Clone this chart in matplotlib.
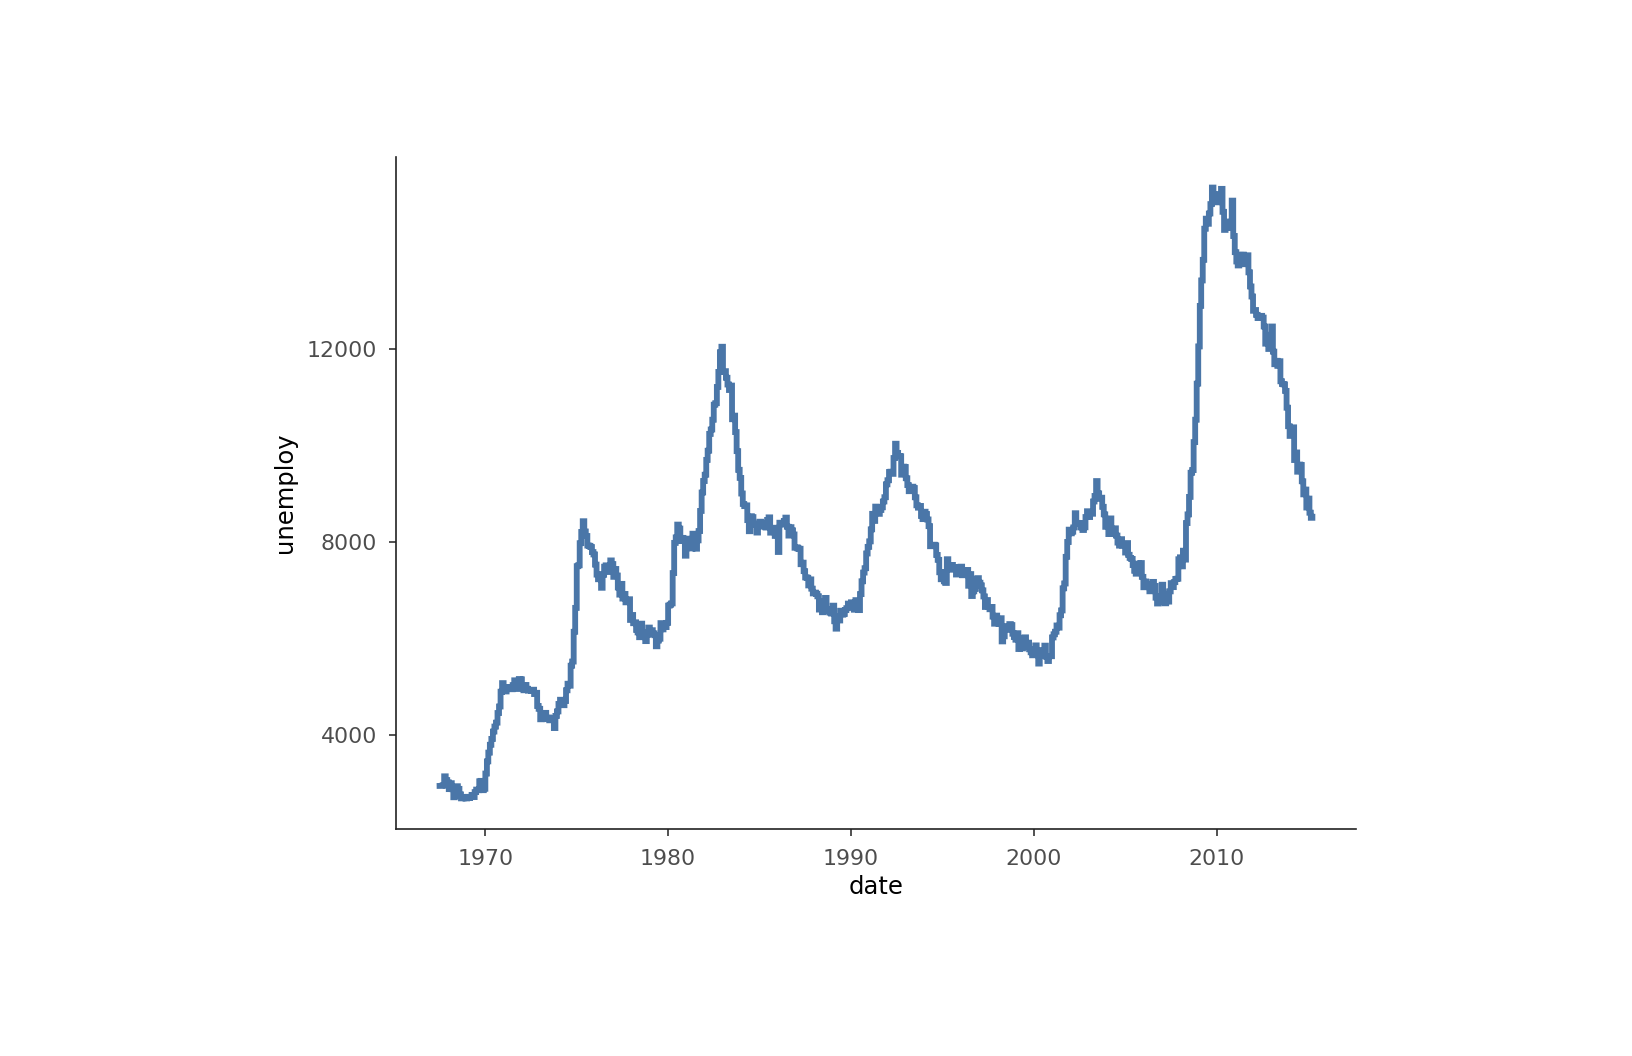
import matplotlib
matplotlib.use("Agg")
import matplotlib.pyplot as plt
import matplotlib.dates as mdates
import pandas as pd
import datetime as dt

start_month = "1967-07-01"
unemploy = [
    2944, 2945, 2958, 3143, 3066, 3018,
    2878, 3001, 2877, 2709, 2740, 2938, 2883, 2768, 2686, 2689, 2715, 2685,
    2718, 2692, 2712, 2758, 2713, 2816, 2868, 2856, 3040, 3049, 2856, 2884,
    3201, 3453, 3635, 3797, 3919, 4071, 4175, 4256, 4456, 4591, 4898, 5076,
    4986, 4903, 4987, 4959, 4996, 4949, 5035, 5134, 5042, 4954, 5161, 5154,
    5019, 4928, 5038, 4959, 4922, 4923, 4913, 4939, 4849, 4875, 4602, 4543,
    4326, 4452, 4394, 4459, 4329, 4363, 4305, 4305, 4350, 4144, 4396, 4489,
    4644, 4731, 4634, 4618, 4705, 4927, 5063, 5022, 5437, 5523, 6140, 6636,
    7501, 7520, 7978, 8210, 8433, 8220, 8127, 7928, 7923, 7897, 7794, 7744,
    7534, 7326, 7230, 7330, 7053, 7322, 7490, 7518, 7380, 7430, 7620, 7545,
    7280, 7443, 7307, 7059, 6911, 7134, 6829, 6925, 6751, 6763, 6815, 6386,
    6489, 6318, 6337, 6180, 6127, 6028, 6309, 6080, 6125, 5947, 6077, 6228,
    6109, 6173, 6109, 6069, 5840, 5959, 5996, 6320, 6190, 6296, 6238, 6325,
    6683, 6702, 6729, 7358, 7984, 8098, 8363, 8281, 8021, 8088, 8023, 7718,
    8071, 8051, 7982, 7869, 8174, 8098, 7863, 8036, 8230, 8646, 9029, 9267,
    9397, 9705, 9895, 10244, 10335, 10538, 10849, 10881, 11217, 11529, 11938, 12051,
    11534, 11545, 11408, 11268, 11154, 11246, 10548, 10623, 10282, 9887, 9499, 9331,
    9008, 8791, 8746, 8762, 8456, 8226, 8537, 8519, 8367, 8381, 8198, 8358,
    8423, 8321, 8339, 8395, 8302, 8460, 8513, 8196, 8248, 8298, 8128, 8138,
    7795, 8402, 8383, 8364, 8439, 8508, 8319, 8135, 8310, 8243, 8159, 7883,
    7892, 7865, 7862, 7542, 7574, 7398, 7268, 7261, 7102, 7227, 7035, 6936,
    6953, 6929, 6876, 6601, 6779, 6546, 6605, 6843, 6604, 6568, 6537, 6518,
    6682, 6359, 6205, 6468, 6375, 6577, 6495, 6511, 6590, 6630, 6725, 6667,
    6752, 6651, 6598, 6797, 6742, 6590, 6922, 7188, 7368, 7459, 7764, 7901,
    8015, 8265, 8586, 8439, 8736, 8692, 8586, 8666, 8722, 8842, 8931, 9198,
    9283, 9454, 9460, 9415, 9744, 10040, 9850, 9787, 9781, 9398, 9565, 9557,
    9325, 9183, 9056, 9110, 9149, 9121, 8930, 8763, 8714, 8750, 8542, 8477,
    8630, 8583, 8470, 8331, 7915, 7927, 7946, 7933, 7734, 7632, 7375, 7230,
    7375, 7187, 7153, 7645, 7430, 7427, 7527, 7484, 7478, 7328, 7426, 7423,
    7491, 7313, 7318, 7415, 7423, 7095, 7337, 6882, 6979, 7031, 7236, 7253,
    7158, 7102, 7000, 6873, 6655, 6799, 6655, 6608, 6656, 6454, 6308, 6476,
    6368, 6306, 6422, 5941, 6047, 6212, 6259, 6179, 6300, 6280, 6100, 6032,
    5976, 6111, 5783, 6004, 5796, 5951, 6025, 5838, 5915, 5778, 5716, 5653,
    5708, 5858, 5733, 5481, 5758, 5651, 5747, 5853, 5625, 5534, 5639, 5634,
    6023, 6089, 6141, 6271, 6226, 6484, 6583, 7042, 7142, 7694, 8003, 8258,
    8182, 8215, 8304, 8599, 8399, 8393, 8390, 8304, 8251, 8307, 8520, 8640,
    8520, 8618, 8588, 8842, 8957, 9266, 9011, 8896, 8921, 8732, 8576, 8317,
    8370, 8167, 8491, 8170, 8212, 8286, 8136, 7990, 7927, 8061, 7932, 7934,
    7784, 7980, 7737, 7672, 7651, 7524, 7406, 7345, 7553, 7453, 7566, 7279,
    7064, 7184, 7072, 7120, 6980, 7001, 7175, 7091, 6847, 6727, 6872, 6762,
    7116, 6927, 6731, 6850, 6766, 6979, 7149, 7067, 7170, 7237, 7240, 7645,
    7685, 7497, 7822, 7637, 8395, 8575, 8937, 9438, 9494, 10074, 10538, 11286,
    12058, 12898, 13426, 13853, 14499, 14707, 14601, 14814, 15009, 15352, 15219, 15098,
    15046, 15113, 15202, 15325, 14849, 14474, 14512, 14648, 14579, 14516, 15081, 14348,
    14013, 13820, 13737, 13957, 13855, 13962, 13763, 13818, 13948, 13594, 13302, 13093,
    12797, 12813, 12713, 12646, 12660, 12692, 12656, 12471, 12115, 12124, 12005, 12298,
    12471, 11950, 11689, 11760, 11654, 11751, 11335, 11279, 11270, 11136, 10787, 10404,
    10202, 10349, 10380, 9702, 9859, 9460, 9608, 9599, 9262, 8990, 9090, 8717,
    8903, 8610, 8504, 8526,
]
y_ticks = [4000, 8000, 12000]
x_tick_years = [1970, 1980, 1990, 2000, 2010]

dates = pd.date_range(start_month, periods=len(unemploy), freq="MS")

fig = plt.figure(figsize=(16.32, 10.56), dpi=100)
ax = fig.add_axes([0.2426, 0.2150, 0.5883, 0.6363])

ax.plot(dates, unemploy, drawstyle="steps-post", color="#4A76A8", linewidth=4.2,
        solid_joinstyle="miter")

span = dates[-1] - dates[0]
ax.set_xlim(dates[0] - span * 0.05, dates[-1] + span * 0.05)
ymin, ymax = min(unemploy), max(unemploy)
yr = ymax - ymin
ax.set_ylim(ymin - 0.05 * yr, ymax + 0.05 * yr)

ax.set_xticks([dt.datetime(y, 1, 1) for y in x_tick_years])
ax.xaxis.set_major_formatter(mdates.DateFormatter("%Y"))
ax.set_yticks(y_ticks)
ax.set_yticklabels([str(v) for v in y_ticks])

for s in ["top", "right"]:
    ax.spines[s].set_visible(False)
for s in ["left", "bottom"]:
    ax.spines[s].set_linewidth(1.2)
    ax.spines[s].set_color("#222222")

ax.tick_params(axis="both", direction="out", length=5, width=1.2, color="#333333",
               labelsize=15.8, labelcolor="#4D4D4D")
ax.tick_params(axis="x", pad=9.5)
ax.tick_params(axis="y", pad=8.7)
ax.set_xlabel("date", fontsize=17.5, color="black", labelpad=4.5)
ax.set_ylabel("unemploy", fontsize=17.5, color="black", labelpad=7)

fig.savefig("out.png", dpi=100)
